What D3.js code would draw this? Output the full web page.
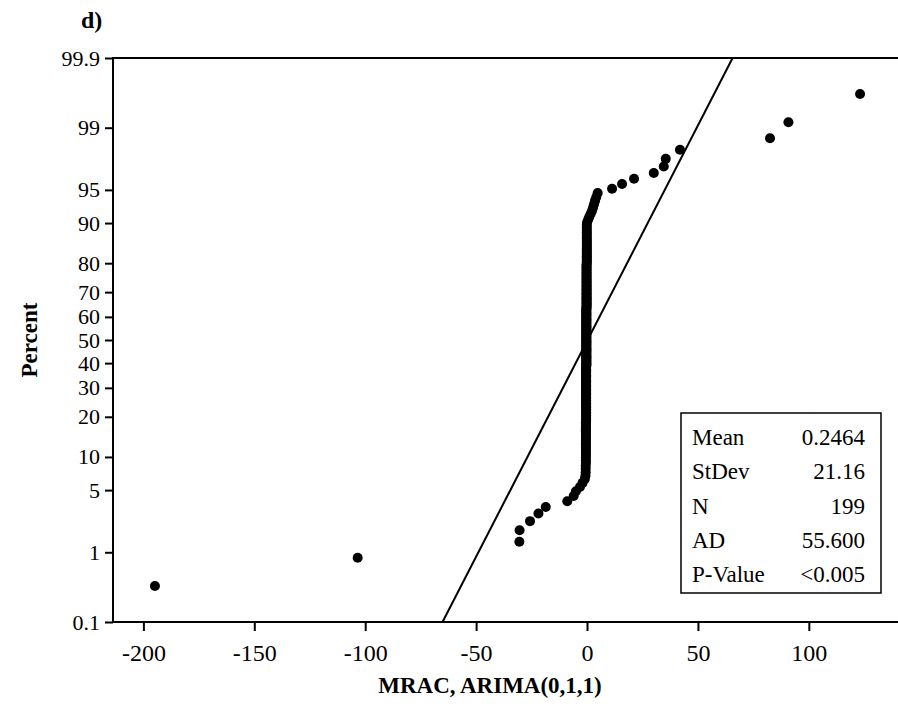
<!DOCTYPE html>
<html>
<head>
<meta charset="utf-8">
<script src="https://cdn.jsdelivr.net/npm/d3@7"></script>
<style>
  html, body { margin: 0; padding: 0; background: #fff; }
  svg { display: block; }
  svg text { font-family: "Liberation Serif", "Times New Roman", serif !important; fill: #000; }
</style>
</head>
<body>
<svg id="chart" width="898" height="704"></svg>
<script>
// ---------------- DATA ----------------
const panelLabel = "d)";
const xTitle = "MRAC, ARIMA(0,1,1)";
const yTitle = "Percent";

// sorted residuals, lower tail (ranks 1..14)
const lowTail = [-194.8, -103.4, -30.5, -30.4, -25.7, -21.9, -18.6, -8.9, -6.0, -5.0, -3.2, -2.0, -1.0, -0.7];
// dense vertical band near zero (ranks 15..179)
const centralBand = [
  -0.6, -0.6, -0.6, -0.5, -0.5, -0.5, -0.5, -0.5, -0.5, -0.5, -0.5, -0.5, -0.5, -0.5, -0.5, -0.5, -0.5, -0.5,
  -0.5, -0.5, -0.5, -0.5, -0.5, -0.4, -0.4, -0.4, -0.4, -0.4, -0.4, -0.4, -0.4, -0.4, -0.4, -0.4, -0.4, -0.4,
  -0.4, -0.4, -0.4, -0.4, -0.4, -0.4, -0.4, -0.4, -0.4, -0.4, -0.4, -0.4, -0.4, -0.4, -0.4, -0.4, -0.4, -0.4,
  -0.4, -0.4, -0.4, -0.4, -0.4, -0.4, -0.4, -0.4, -0.4, -0.3, -0.3, -0.3, -0.3, -0.3, -0.3, -0.3, -0.3, -0.3,
  -0.3, -0.3, -0.3, -0.3, -0.3, -0.3, -0.3, -0.3, -0.3, -0.3, -0.3, -0.3, -0.3, -0.3, -0.3, -0.3, -0.3, -0.3,
  -0.3, -0.3, -0.3, -0.3, -0.3, -0.3, -0.3, -0.3, -0.3, -0.3, -0.3, -0.3, -0.3, -0.3, -0.3, -0.3, -0.3, -0.3,
  -0.3, -0.3, -0.3, -0.3, -0.3, -0.2, -0.2, -0.2, -0.2, -0.2, -0.2, -0.2, -0.2, -0.2, -0.2, -0.2, -0.2, -0.2,
  -0.2, -0.2, -0.2, -0.2, -0.2, -0.2, -0.2, -0.2, -0.2, -0.2, -0.2, -0.2, -0.2, -0.2, -0.2, -0.2, -0.2, -0.2,
  -0.2, -0.1, -0.1, -0.1, -0.1, -0.1, -0.1, -0.1, -0.1, -0.1, -0.1, -0.1, -0.1, -0.1, -0.1, -0.1, -0.1, -0.1,
  -0.1, -0.1, -0.1
];
// bend at the top of the band (ranks 180..189)
const upperBend = [0.0, 0.5, 1.0, 1.6, 2.2, 2.7, 3.1, 3.6, 4.2, 4.8];
// upper tail (ranks 190..199)
const highTail = [11.3, 15.8, 21.2, 30.1, 34.6, 35.5, 41.9, 82.5, 90.8, 123.1];

// fitted normal distribution / statistics box
const fitMean = 0.2464;
const fitStDev = 21.16;
const statLabels = ["Mean", "StDev", "N", "AD", "P-Value"];
const statValues = ["0.2464", "21.16", "199", "55.600", "<0.005"];

// axis ticks
const xTicks = [-200, -150, -100, -50, 0, 50, 100];
const yTickPercents = [0.1, 1, 5, 10, 20, 30, 40, 50, 60, 70, 80, 90, 95, 99, 99.9];
const xDomain = [-213.7, 140.2];
const pDomain = [0.001, 0.999];

// ---------------- helpers ----------------
// inverse standard normal CDF (Acklam)
function probit(p) {
  const a = [-3.969683028665376e+01, 2.209460984245205e+02, -2.759285104469687e+02, 1.383577518672690e+02, -3.066479806614716e+01, 2.506628277459239e+00];
  const b = [-5.447609879822406e+01, 1.615858368580409e+02, -1.556989798598866e+02, 6.680131188771972e+01, -1.328068155288572e+01];
  const c = [-7.784894002430293e-03, -3.223964580411365e-01, -2.400758277161838e+00, -2.549671010422820e+00, 4.374664141464968e+00, 2.938163982698783e+00];
  const d = [7.784695709041462e-03, 3.224671290700398e-01, 2.445134137142996e+00, 3.754408661907416e+00];
  const pl = 0.02425, ph = 1 - pl;
  let q, r;
  if (p < pl) {
    q = Math.sqrt(-2 * Math.log(p));
    return (((((c[0]*q+c[1])*q+c[2])*q+c[3])*q+c[4])*q+c[5]) / ((((d[0]*q+d[1])*q+d[2])*q+d[3])*q+1);
  } else if (p <= ph) {
    q = p - 0.5; r = q * q;
    return (((((a[0]*r+a[1])*r+a[2])*r+a[3])*r+a[4])*r+a[5])*q / (((((b[0]*r+b[1])*r+b[2])*r+b[3])*r+b[4])*r+1);
  } else {
    q = Math.sqrt(-2 * Math.log(1 - p));
    return -(((((c[0]*q+c[1])*q+c[2])*q+c[3])*q+c[4])*q+c[5]) / ((((d[0]*q+d[1])*q+d[2])*q+d[3])*q+1);
  }
}

// ---------------- drawing ----------------
const svg = d3.select("#chart");
const plot = { left: 113, right: 898, top: 58, bottom: 622 };
const serif = "'Liberation Serif', 'Times New Roman', serif";

const x = d3.scaleLinear().domain(xDomain).range([plot.left, plot.right]);
const zScale = d3.scaleLinear().domain(pDomain.map(probit)).range([plot.bottom, plot.top]);

const values = lowTail.concat(centralBand, upperBend, highTail).slice().sort((a, b) => a - b);
const n = values.length;
// median-rank plotting positions (Minitab style)
const points = values.map((v, i) => ({ v, z: probit((i + 1 - 0.3) / (n + 0.4)) }));

// fitted line
const zEnds = zScale.domain();
const fitLine = zEnds.map(z => ({ v: fitMean + fitStDev * z, z }));
svg.append("path")
  .datum(fitLine)
  .attr("d", d3.line().x(d => x(d.v)).y(d => zScale(d.z)))
  .attr("fill", "none")
  .attr("stroke", "#000")
  .attr("stroke-width", 2);

// points
svg.append("g").selectAll("circle")
  .data(points)
  .join("circle")
  .attr("cx", d => x(d.v))
  .attr("cy", d => zScale(d.z))
  .attr("r", 5)
  .attr("fill", "#000");

// left axis (probability scale)
const yAxis = d3.axisLeft(zScale)
  .tickValues(yTickPercents.map(p => probit(p / 100)))
  .tickFormat((d, i) => String(yTickPercents[i]))
  .tickSize(8)
  .tickSizeOuter(0)
  .tickPadding(5);
const gy = svg.append("g").attr("transform", `translate(${plot.left},0)`).call(yAxis)
  .attr("font-family", serif).attr("font-size", 22);
gy.select(".domain").remove();
gy.selectAll(".tick line").attr("stroke", "#000").attr("stroke-width", 2);
gy.selectAll(".tick text").style("font-family", serif).style("font-size", "22px").attr("fill", "#000");

// bottom axis
const xAxis = d3.axisBottom(x)
  .tickValues(xTicks)
  .tickFormat(d => d < 0 ? "-" + Math.abs(d) : String(d))
  .tickSize(9)
  .tickSizeOuter(0)
  .tickPadding(13);
const gx = svg.append("g").attr("transform", `translate(0,${plot.bottom})`).call(xAxis)
  .attr("font-family", serif).attr("font-size", 24);
gx.select(".domain").remove();
gx.selectAll(".tick line").attr("stroke", "#000").attr("stroke-width", 2);
gx.selectAll(".tick text").style("font-family", serif).style("font-size", "24px").attr("fill", "#000");

// frame lines: left, top, bottom
const frame = svg.append("g").attr("stroke", "#000").attr("stroke-width", 2).attr("fill", "none");
frame.append("line").attr("x1", plot.left).attr("x2", plot.left).attr("y1", plot.top - 1).attr("y2", plot.bottom + 1);
frame.append("line").attr("x1", plot.left).attr("x2", plot.right).attr("y1", plot.top).attr("y2", plot.top);
frame.append("line").attr("x1", plot.left).attr("x2", plot.right).attr("y1", plot.bottom).attr("y2", plot.bottom);

// titles
svg.append("text").attr("x", 81).attr("y", 28)
  .style("font-size", "24px").attr("font-weight", "bold").text(panelLabel);
svg.append("text").attr("x", 490).attr("y", 693).attr("text-anchor", "middle")
  .style("font-size", "23px").attr("font-weight", "bold").text(xTitle);
svg.append("text").attr("transform", "translate(37,340) rotate(-90)").attr("text-anchor", "middle")
  .style("font-size", "23px").attr("font-weight", "bold").text(yTitle);

// statistics box
const box = { x: 681, y: 413, w: 200, h: 180 };
svg.append("rect").attr("x", box.x).attr("y", box.y).attr("width", box.w).attr("height", box.h)
  .attr("fill", "#fff").attr("stroke", "#000").attr("stroke-width", 1.5);
const rowY = d3.scalePoint().domain(statLabels).range([445, 582]);
const gs = svg.append("g").style("font-size", "23px");
gs.selectAll("text.lab").data(statLabels).join("text").attr("class", "lab")
  .attr("x", 692).attr("y", d => rowY(d)).text(d => d);
gs.selectAll("text.val").data(statValues).join("text").attr("class", "val")
  .attr("x", 865).attr("y", (d, i) => rowY(statLabels[i])).attr("text-anchor", "end").text(d => d);
</script>
</body>
</html>
